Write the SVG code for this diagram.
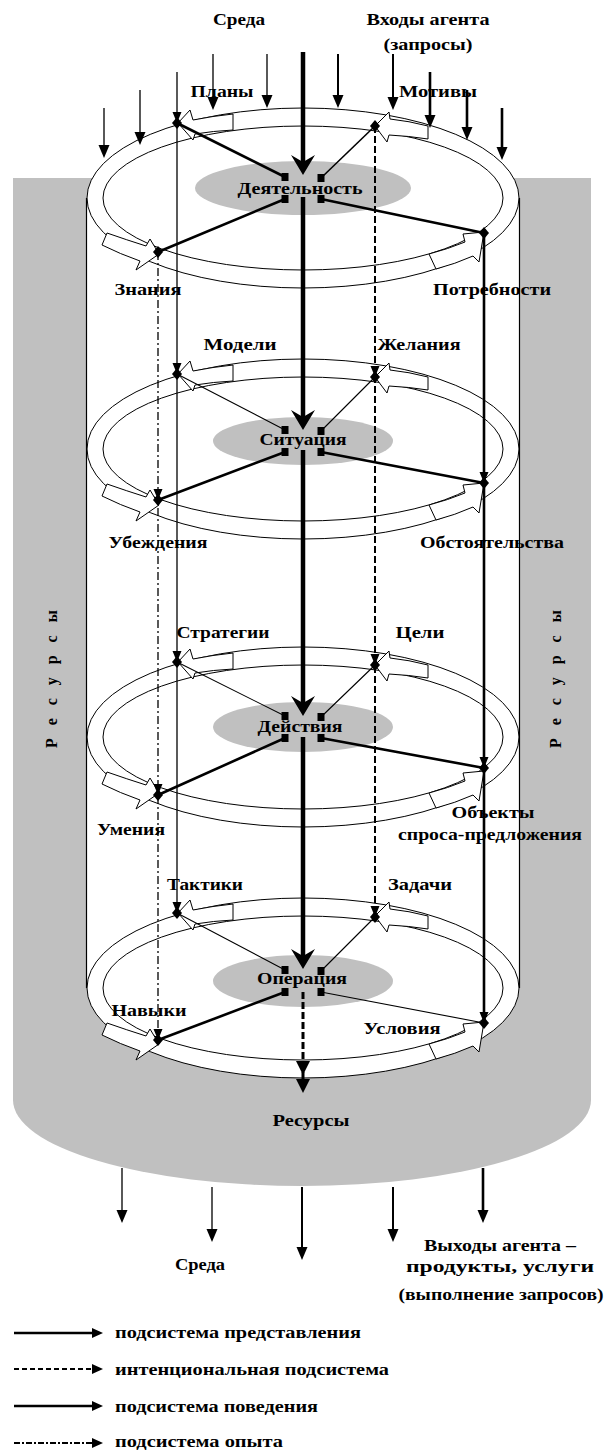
<svg xmlns="http://www.w3.org/2000/svg" width="614" height="1450" viewBox="0 0 614 1450">
<style>
 text { font-family: "Liberation Serif", "Times New Roman", serif; font-weight: bold; font-size: 16px; fill: #000; }
 .lbl { text-anchor: middle; }
 .ln { fill: none; stroke: #000; }
 .central { stroke-width: 4.5; }
 .thin { stroke-width: 1.1; }
 .vthin { stroke-width: 1.3; }
 .med { stroke-width: 2; }
 .thick { stroke-width: 2.6; }
 .dash { stroke-dasharray: 7 3; }
 .dashdot { stroke-dasharray: 8 3 2 3; }
</style>
<defs>
 <path id="ah" d="M0,0 L-5.5,-13 L5.5,-13 Z" fill="#000"/>
 <path id="ahn" d="M0,0 L-4.5,-11 L4.5,-11 Z" fill="#000"/>
 <path id="ahb" d="M0,0 L-12,-20 L0,-13 L12,-20 Z" fill="#000"/>
 <path id="ahd" d="M0,0 L-7,-14 L7,-14 Z" fill="#000"/>
 <path id="ahr" d="M0,0 L-11,-5 L-11,5 Z" fill="#000"/>
 <path id="dot" d="M0,-6 L5,0 L0,6 L-5,0 Z" fill="#000"/>
 <rect id="sq" x="-3.5" y="-4" width="7" height="8" fill="#000"/>
 <g id="ring" fill="none" stroke="#000" stroke-width="1">
  <ellipse rx="216" ry="90"/>
  <ellipse rx="200" ry="72"/>
  <path fill="#fff" d="M -70,-84 Q -90,-82 -110,-78 L -113,-88 L -125,-75 L -110,-58 L -108,-64 Q -90,-67 -70,-68 Z"/>
  <path fill="#fff" d="M 125,-72 Q 106,-77 87,-79 L 86,-86 L 72,-72 L 84,-56 L 86,-63 Q 106,-62 125,-59 Z"/>
  <path fill="#fff" d="M -196,35 Q -176,42 -157,48 L -153,41 L -144,56 L -167,72 L -163,63 Q -183,56 -201,47 Z"/>
  <path fill="#fff" d="M 126,56 Q 145,51 162,44 L 160,36 L 181,34 L 176,64 L 170,58 Q 152,66 133,71 Z"/>
 </g>
</defs>

<rect width="614" height="1450" fill="#fff"/>

<g id="resources-body">
 <path d="M13,178 H591 V1100 A289,86 0 0 1 13,1100 Z" fill="#c0c0c0"/>
 <text transform="translate(57,679) rotate(-90)" class="lbl" textLength="138">Р е с у р с ы</text>
 <text transform="translate(561,679) rotate(-90)" class="lbl" textLength="138">Р е с у р с ы</text>
 <text x="311" y="1126" class="lbl" textLength="77" lengthAdjust="spacingAndGlyphs">Ресурсы</text>
</g>

<g id="cylinder">
 <rect x="86.5" y="198" width="433" height="790" fill="#fff"/>
 <ellipse cx="303" cy="198" rx="216" ry="90" fill="#fff"/>
 <ellipse cx="303" cy="988" rx="216" ry="90" fill="#fff"/>
 <path d="M86.5,198 V988 M519.5,198 V988" stroke="#000" stroke-width="1.2" fill="none"/>
</g>

<g id="level1">
 <use href="#ring" x="303" y="198"/>
 <ellipse cx="303" cy="188" rx="108" ry="27" fill="#c0c0c0"/>
</g>
<g id="level2">
 <use href="#ring" x="303" y="449"/>
 <ellipse cx="303" cy="441" rx="90" ry="24" fill="#c0c0c0"/>
</g>
<g id="level3">
 <use href="#ring" x="303" y="737"/>
 <ellipse cx="303" cy="727" rx="90" ry="25" fill="#c0c0c0"/>
</g>
<g id="level4">
 <use href="#ring" x="303" y="988"/>
 <ellipse cx="303" cy="981" rx="90" ry="26" fill="#c0c0c0"/>
</g>

<g id="connectors">
 <path class="ln vthin" d="M104,108 V150 M140,90 V136 M213,54 V100 M267,54 V98"/>
 <path class="ln med" d="M338,54 V98 M393,54 V100"/>
 <path class="ln thick" d="M430,72 V118 M467,90 V130 M502,108 V150"/>
 <use href="#ah" x="104" y="158"/><use href="#ah" x="140" y="145"/><use href="#ah" x="213" y="110"/><use href="#ah" x="267" y="108"/>
 <use href="#ah" x="338" y="108"/><use href="#ah" x="393" y="110"/><use href="#ah" x="430" y="128"/><use href="#ah" x="467" y="140"/><use href="#ah" x="502" y="160"/>

 <path class="ln central" d="M303,52 V165 M303,197 V420 M303,450 V706 M303,737 V959"/>
 <use href="#ahb" x="303" y="175"/><use href="#ahb" x="303" y="430"/><use href="#ahb" x="303" y="716"/><use href="#ahb" x="303" y="969"/>
 <path class="ln dash" stroke-width="3" d="M303,992 V1082"/>
 <use href="#ahd" x="303" y="1075"/><use href="#ahd" x="303" y="1093"/>

 <path class="ln vthin" d="M177,72 V913"/>
 <path class="ln vthin dashdot" d="M158,252 V1040"/>
 <path class="ln med dash" d="M375,126 V917"/>
 <path class="ln thick" d="M484,233 V1023"/>
 <use href="#ahn" x="177" y="123"/><use href="#ahn" x="177" y="374"/><use href="#ahn" x="177" y="662"/><use href="#ahn" x="177" y="913"/>
 <use href="#ahn" x="158" y="500"/><use href="#ahn" x="158" y="795"/><use href="#ahn" x="158" y="1040"/>
 <use href="#ahn" x="375" y="377"/><use href="#ahn" x="375" y="665"/><use href="#ahn" x="375" y="917"/>
 <use href="#ahn" x="484" y="483"/><use href="#ahn" x="484" y="768"/><use href="#ahn" x="484" y="1023"/>

 <path class="ln thick" d="M177,123 L285,177 M285,199 L158,252 M321,199 L484,233"/>
 <path class="ln" stroke-width="1.6" d="M375,126 L321,178"/>
 <path class="ln thin" d="M177,374 L285,430 M375,377 L321,431"/>
 <path class="ln thick" d="M285,452 L158,500 M321,452 L484,483"/>
 <path class="ln thin" d="M177,662 L285,716 M375,665 L321,717"/>
 <path class="ln thick" d="M285,738 L158,795 M321,738 L484,768"/>
 <path class="ln thin" d="M177,913 L285,970 M375,917 L321,971 M321,992 L484,1023"/>
 <path class="ln thick" d="M285,992 L158,1040"/>

 <use href="#dot" x="177" y="123"/><use href="#dot" x="375" y="126"/><use href="#dot" x="158" y="252"/><use href="#dot" x="484" y="233"/>
 <use href="#dot" x="177" y="374"/><use href="#dot" x="375" y="377"/><use href="#dot" x="158" y="500"/><use href="#dot" x="484" y="483"/>
 <use href="#dot" x="177" y="662"/><use href="#dot" x="375" y="665"/><use href="#dot" x="158" y="795"/><use href="#dot" x="484" y="768"/>
 <use href="#dot" x="177" y="913"/><use href="#dot" x="375" y="917"/><use href="#dot" x="158" y="1040"/><use href="#dot" x="484" y="1023"/>
 <use href="#sq" x="285" y="177"/><use href="#sq" x="321" y="178"/><use href="#sq" x="285" y="199"/><use href="#sq" x="321" y="199"/>
 <use href="#sq" x="285" y="430"/><use href="#sq" x="321" y="431"/><use href="#sq" x="285" y="452"/><use href="#sq" x="321" y="452"/>
 <use href="#sq" x="285" y="716"/><use href="#sq" x="321" y="717"/><use href="#sq" x="285" y="738"/><use href="#sq" x="321" y="738"/>
 <use href="#sq" x="285" y="970"/><use href="#sq" x="321" y="971"/><use href="#sq" x="285" y="992"/><use href="#sq" x="321" y="992"/>

 <path class="ln vthin" d="M122,1168 V1212 M212,1187 V1231"/>
 <path class="ln med" d="M302,1187 V1249 M393,1187 V1231"/>
 <path class="ln thick" d="M483,1168 V1212"/>
 <use href="#ah" x="122" y="1223"/><use href="#ah" x="212" y="1242"/><use href="#ah" x="302" y="1260"/><use href="#ah" x="393" y="1242"/><use href="#ah" x="483" y="1223"/>
</g>

<g id="labels">
 <text x="239" y="25" class="lbl" textLength="52" lengthAdjust="spacingAndGlyphs">Среда</text>
 <text x="428" y="25" class="lbl" textLength="123" lengthAdjust="spacingAndGlyphs">Входы агента</text>
 <text x="428" y="50" class="lbl" textLength="89" lengthAdjust="spacingAndGlyphs">(запросы)</text>
 <text x="222" y="97" class="lbl" textLength="63" lengthAdjust="spacingAndGlyphs">Планы</text>
 <text x="438" y="97" class="lbl" textLength="78" lengthAdjust="spacingAndGlyphs">Мотивы</text>
 <text x="300" y="194" class="lbl" textLength="125" lengthAdjust="spacingAndGlyphs">Деятельность</text>
 <text x="148" y="295" class="lbl" textLength="67" lengthAdjust="spacingAndGlyphs">Знания</text>
 <text x="492" y="295" class="lbl" textLength="118" lengthAdjust="spacingAndGlyphs">Потребности</text>
 <text x="240" y="350" class="lbl" textLength="73" lengthAdjust="spacingAndGlyphs">Модели</text>
 <text x="419" y="350" class="lbl" textLength="83" lengthAdjust="spacingAndGlyphs">Желания</text>
 <text x="303" y="445" class="lbl" textLength="87" lengthAdjust="spacingAndGlyphs">Ситуация</text>
 <text x="158" y="548" class="lbl" textLength="99" lengthAdjust="spacingAndGlyphs">Убеждения</text>
 <text x="492" y="548" class="lbl" textLength="144" lengthAdjust="spacingAndGlyphs">Обстоятельства</text>
 <text x="223" y="638" class="lbl" textLength="93" lengthAdjust="spacingAndGlyphs">Стратегии</text>
 <text x="420" y="638" class="lbl" textLength="49" lengthAdjust="spacingAndGlyphs">Цели</text>
 <text x="300" y="732" class="lbl" textLength="85" lengthAdjust="spacingAndGlyphs">Действия</text>
 <text x="131" y="835" class="lbl" textLength="68" lengthAdjust="spacingAndGlyphs">Умения</text>
 <text x="493" y="818" class="lbl" textLength="83" lengthAdjust="spacingAndGlyphs">Объекты</text>
 <text x="490" y="840" class="lbl" textLength="184" lengthAdjust="spacingAndGlyphs">спроса-предложения</text>
 <text x="205" y="890" class="lbl" textLength="76" lengthAdjust="spacingAndGlyphs">Тактики</text>
 <text x="420" y="890" class="lbl" textLength="64" lengthAdjust="spacingAndGlyphs">Задачи</text>
 <text x="302" y="984" class="lbl" textLength="90" lengthAdjust="spacingAndGlyphs">Операция</text>
 <text x="149" y="1016" class="lbl" textLength="75" lengthAdjust="spacingAndGlyphs">Навыки</text>
 <text x="402" y="1034" class="lbl" textLength="77" lengthAdjust="spacingAndGlyphs">Условия</text>
 <text x="200" y="1270" class="lbl" textLength="50" lengthAdjust="spacingAndGlyphs">Среда</text>
 <text x="500" y="1251" class="lbl" textLength="152" lengthAdjust="spacingAndGlyphs">Выходы агента –</text>
 <text x="500" y="1272" class="lbl" textLength="188" lengthAdjust="spacingAndGlyphs">продукты, услуги</text>
 <text x="501" y="1300" class="lbl" textLength="205" lengthAdjust="spacingAndGlyphs">(выполнение запросов)</text>
</g>

<g id="legend">
 <path class="ln thick" d="M14,1333 H95"/>
 <use href="#ahr" x="103" y="1333"/>
 <text x="115" y="1338" textLength="246" lengthAdjust="spacingAndGlyphs">подсистема представления</text>
 <path class="ln med" stroke-dasharray="5 3" d="M14,1369 H95"/>
 <use href="#ahr" x="103" y="1369"/>
 <text x="115" y="1375" textLength="274" lengthAdjust="spacingAndGlyphs">интенциональная подсистема</text>
 <path class="ln thick" d="M14,1406 H95"/>
 <use href="#ahr" x="103" y="1406"/>
 <text x="115" y="1412" textLength="203" lengthAdjust="spacingAndGlyphs">подсистема поведения</text>
 <path class="ln med" stroke-dasharray="6 2 2 2" d="M14,1443 H95"/>
 <use href="#ahr" x="103" y="1443"/>
 <text x="115" y="1447" textLength="168" lengthAdjust="spacingAndGlyphs">подсистема опыта</text>
</g>
</svg>
